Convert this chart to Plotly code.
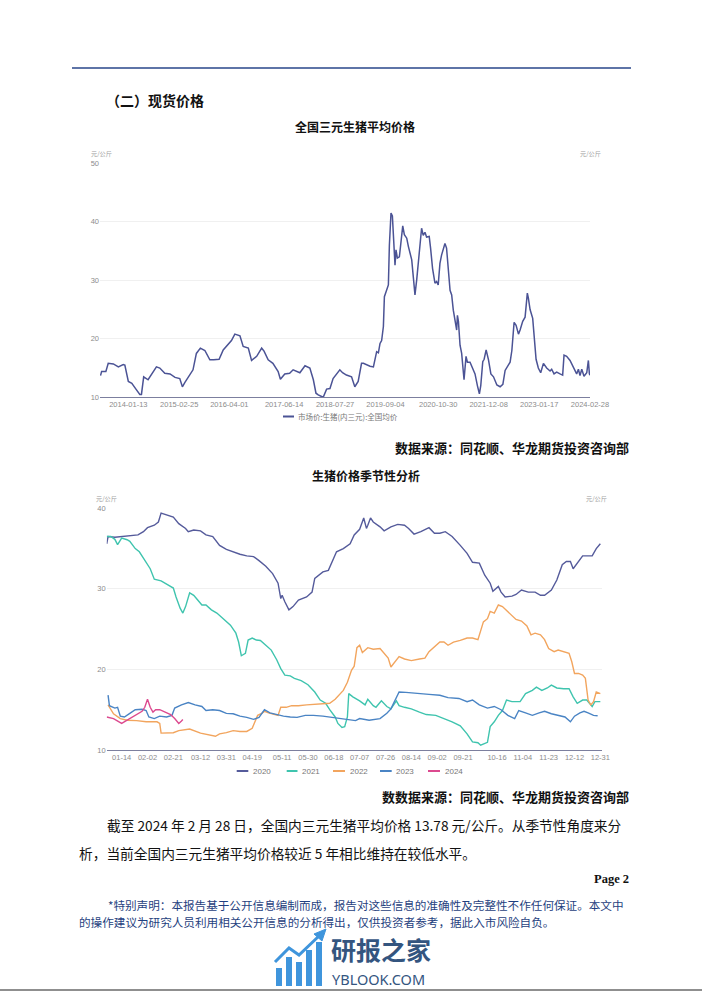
import plotly.graph_objects as go

W, H = 702, 991

# ---------------- Chart 1: 全国三元生猪平均价格 ----------------
c1_dates = [
    "2013-06-04", "2013-06-13", "2013-07-17", "2013-08-05", "2013-09-15", "2013-10-25", "2013-12-03", "2013-12-16",
    "2014-01-13", "2014-02-10", "2014-03-15", "2014-04-15", "2014-04-28", "2014-05-16", "2014-06-20", "2014-08-05",
    "2014-08-26", "2014-09-22", "2014-11-01", "2014-12-13", "2015-01-22", "2015-03-01", "2015-03-22", "2015-04-10",
    "2015-05-13", "2015-06-15", "2015-07-12", "2015-08-13", "2015-09-18", "2015-10-28", "2015-11-28", "2016-01-10",
    "2016-02-12", "2016-03-22", "2016-04-18", "2016-05-15", "2016-06-25", "2016-07-21", "2016-08-31", "2016-09-26",
    "2016-11-06", "2016-12-16", "2017-01-04", "2017-02-06", "2017-03-16", "2017-04-27", "2017-05-15", "2017-06-19",
    "2017-07-28", "2017-08-25", "2017-10-18", "2017-11-28", "2018-01-06", "2018-02-03", "2018-02-24", "2018-03-14",
    "2018-04-23", "2018-05-20", "2018-06-16", "2018-07-11", "2018-08-07", "2018-09-03", "2018-09-25", "2018-10-26",
    "2018-12-06", "2019-01-01", "2019-01-28", "2019-02-24", "2019-03-11", "2019-05-03", "2019-05-30", "2019-06-25",
    "2019-07-09", "2019-07-22", "2019-08-04", "2019-08-18", "2019-08-26", "2019-09-13", "2019-09-27", "2019-10-05",
    "2019-10-18", "2019-10-29", "2019-11-06", "2019-11-19", "2019-11-27", "2019-12-08", "2019-12-24", "2020-01-04",
    "2020-01-20", "2020-02-02", "2020-02-21", "2020-03-05", "2020-04-01", "2020-04-14", "2020-04-27", "2020-05-11",
    "2020-06-06", "2020-06-19", "2020-07-02", "2020-07-16", "2020-07-29", "2020-08-19", "2020-08-30", "2020-09-15",
    "2020-10-04", "2020-10-17", "2020-10-30", "2020-11-13", "2020-11-26", "2020-12-23", "2021-01-05", "2021-01-19",
    "2021-02-02", "2021-02-15", "2021-02-28", "2021-03-27", "2021-04-02", "2021-04-10", "2021-04-23", "2021-05-06",
    "2021-05-25", "2021-06-10", "2021-06-21", "2021-07-12", "2021-08-02", "2021-08-21", "2021-09-09", "2021-09-25",
    "2021-10-06", "2021-10-22", "2021-11-02", "2021-11-18", "2021-12-07", "2021-12-26", "2022-01-16", "2022-02-12",
    "2022-03-10", "2022-04-01", "2022-04-19", "2022-05-08", "2022-05-29", "2022-06-12", "2022-06-30", "2022-07-16",
    "2022-08-04", "2022-08-17", "2022-09-07", "2022-09-26", "2022-10-14", "2022-10-22", "2022-11-05", "2022-11-26",
    "2022-12-07", "2022-12-23", "2023-01-10", "2023-01-29", "2023-02-20", "2023-03-18", "2023-04-14", "2023-04-27",
    "2023-05-16", "2023-06-06", "2023-07-03", "2023-07-24", "2023-08-04", "2023-08-25", "2023-09-21", "2023-10-18",
    "2023-10-31", "2023-11-13", "2023-11-27", "2023-12-10", "2023-12-24", "2024-01-11", "2024-02-02", "2024-02-15",
    "2024-02-23", "2024-02-28",
]
c1_values = [
    13.7, 14.4, 14.4, 15.8, 15.7, 15.2, 15.6, 15.5,
    12.7, 12.4, 11.4, 10.5, 10.5, 13.5, 13.0, 14.4,
    15.2, 15.0, 14.1, 14.0, 13.4, 13.2, 11.8, 12.5,
    13.7, 14.7, 17.5, 18.4, 18.0, 16.4, 16.4, 16.5,
    18.1, 19.0, 19.7, 20.8, 20.5, 18.7, 18.4, 16.3,
    17.0, 18.4, 17.9, 16.4, 15.8, 14.4, 13.1, 14.0,
    14.1, 14.7, 14.2, 15.4, 15.0, 13.0, 10.7, 10.4,
    10.0, 11.4, 11.5, 13.2, 14.0, 14.7, 14.2, 13.8,
    13.5, 11.8, 12.7, 15.8, 15.8, 15.3, 15.2, 17.8,
    17.6, 19.2, 19.7, 22.1, 27.2, 28.3, 29.2, 36.0,
    41.5, 41.0, 37.7, 32.6, 35.2, 33.8, 34.0, 36.3,
    39.3, 37.8, 37.2, 35.8, 33.5, 30.5, 27.5, 30.1,
    35.2, 38.9, 37.7, 38.2, 37.4, 37.5, 35.5, 32.0,
    29.5, 29.8, 29.2, 32.9, 34.3, 36.3, 35.5, 30.9,
    28.3, 27.5, 24.9, 21.5, 24.0, 23.0, 18.9, 17.5,
    13.0, 17.0, 16.0, 16.0, 15.0, 14.0, 12.0, 10.6,
    12.0, 16.1, 16.5, 18.1, 16.4, 14.0, 13.5, 12.1,
    11.8, 12.2, 14.6, 15.3, 16.0, 18.0, 22.8, 22.3,
    20.8, 21.5, 23.0, 23.7, 27.8, 27.0, 25.0, 23.5,
    20.1, 16.5, 15.0, 14.2, 15.8, 15.0, 14.5, 14.8,
    14.0, 14.3, 14.0, 13.8, 17.2, 17.0, 16.3, 15.0,
    14.6, 14.0, 14.8, 13.7, 14.8, 13.6, 14.2, 16.3,
    14.0, 13.78,
]
c1_tick_dates = ["2014-01-13", "2015-02-25", "2016-04-01", "2017-06-14", "2018-07-27",
                 "2019-09-04", "2020-10-30", "2021-12-08", "2023-01-17", "2024-02-28"]
c1_name = "市场价:生猪(内三元):全国均价"

# ---------------- Chart 2: 生猪价格季节性分析 ----------------
s2020_days = ["01-03", "01-04", "01-09", "01-14", "01-20", "01-26", "01-30", "02-02", "02-07", "02-10",
              "02-12", "02-16", "02-21", "02-25", "03-01", "03-03", "03-07", "03-12", "03-16", "03-21",
              "03-26", "03-31", "04-05", "04-10", "04-15", "04-20", "04-24", "04-29", "05-04", "05-08",
              "05-10", "05-11", "05-13", "05-16", "05-19", "05-23", "05-29", "06-02", "06-04", "06-10",
              "06-14", "06-20", "06-25", "06-30", "07-03", "07-07", "07-10", "07-12", "07-13", "07-15",
              "07-17", "07-22", "07-25", "07-30", "08-04", "08-09", "08-12", "08-16", "08-21", "08-27",
              "08-31", "09-04", "09-08", "09-13", "09-19", "09-24", "09-28", "10-03", "10-07", "10-11",
              "10-13", "10-17", "10-19", "10-22", "10-27", "10-30", "11-03", "11-08", "11-13", "11-17",
              "11-20", "11-25", "11-29", "12-03", "12-06", "12-09", "12-11", "12-15", "12-18", "12-25",
              "12-28", "12-31"]
s2020_vals = [35.6, 36.5, 36.4, 36.5, 36.6, 36.7, 37.1, 37.6, 37.9, 38.3,
              39.4, 39.2, 38.9, 38.1, 37.5, 37.1, 37.3, 37.2, 36.7, 36.5,
              35.4, 34.9, 34.6, 34.3, 34.1, 34.0, 33.5, 32.8, 31.9, 30.7,
              28.8, 29.2, 28.4, 27.4, 27.8, 28.6, 29.0, 29.6, 31.3, 32.1,
              32.3, 34.6, 35.0, 35.6, 36.7, 37.4, 38.8, 37.5, 37.9, 38.8,
              38.3, 37.7, 37.2, 37.7, 38.0, 37.9, 37.5, 36.8, 37.1, 37.6,
              36.9, 36.9, 37.1, 36.5, 35.4, 34.4, 33.3, 33.2, 31.7, 30.7,
              29.7, 30.3, 29.6, 29.0, 29.1, 29.3, 29.85, 29.6, 29.6, 29.2,
              29.2, 29.85, 31.1, 33.0, 33.4, 33.4, 32.5, 33.4, 34.1, 34.1,
              35.0, 35.6]

s2021_days = ["01-03", "01-06", "01-09", "01-11", "01-14", "01-18", "01-20", "01-24", "01-27", "01-31",
              "02-04", "02-07", "02-12", "02-17", "02-21", "02-23", "02-26", "02-28", "03-01", "03-04",
              "03-07", "03-09", "03-13", "03-16", "03-20", "03-24", "03-29", "04-03", "04-07", "04-09",
              "04-11", "04-14", "04-16", "04-19", "04-22", "04-25", "04-29", "05-03", "05-07", "05-10",
              "05-13", "05-17", "05-20", "05-25", "05-30", "06-04", "06-08", "06-12", "06-15", "06-19",
              "06-21", "06-24", "06-26", "06-28", "06-29", "07-02", "07-07", "07-11", "07-13", "07-17",
              "07-19", "07-23", "07-27", "07-30", "08-03", "08-05", "08-09", "08-14", "08-20", "08-25",
              "09-01", "09-07", "09-13", "09-19", "09-24", "09-28", "10-02", "10-04", "10-09", "10-11",
              "10-14", "10-17", "10-20", "10-23", "10-27", "11-02", "11-06", "11-11", "11-14", "11-18",
              "11-22", "11-25", "11-29", "12-04", "12-08", "12-11", "12-14", "12-18", "12-21", "12-25",
              "12-27", "12-31"]
s2021_vals = [36.5, 36.5, 36.15, 35.5, 36.3, 36.1, 35.9, 35.0, 34.6, 33.6,
              32.5, 31.2, 31.0, 30.5, 30.1, 29.0, 27.6, 27.0, 27.8, 29.5,
              29.2, 28.8, 28.0, 28.0, 27.4, 27.0, 26.3, 25.5, 24.5, 23.4,
              21.7, 22.0, 23.65, 23.9, 23.65, 23.6, 23.0, 22.4, 21.2, 20.1,
              19.3, 19.2, 18.9, 18.6, 18.1, 17.2, 16.2, 15.8, 15.0, 14.1,
              13.3, 12.8, 12.9, 14.1, 17.0, 16.6, 16.1, 15.6, 16.3, 15.5,
              15.3, 16.1, 15.4, 15.1, 16.1, 15.5, 15.3, 15.1, 14.7, 14.4,
              14.3, 13.9, 13.5, 13.0, 12.0, 11.0, 10.9, 10.6, 10.95, 12.9,
              13.5, 14.3, 14.9, 16.2, 16.0, 16.0, 17.0, 17.4, 17.8, 17.4,
              17.7, 18.05, 17.7, 17.6, 17.6, 16.6, 15.8, 16.2, 16.2, 15.4,
              16.0, 16.0]

s2022_days = ["01-04", "01-08", "01-13", "01-18", "01-25", "02-01", "02-09", "02-11", "02-12", "02-16",
              "02-21", "02-25", "02-28", "03-04", "03-12", "03-19", "03-23", "03-26", "03-31", "04-05",
              "04-10", "04-15", "04-19", "04-21", "04-23", "04-26", "04-28", "05-01", "05-04", "05-08",
              "05-10", "05-14", "05-18", "05-23", "05-29", "06-04", "06-10", "06-15", "06-19", "06-22",
              "06-25", "06-28", "07-01", "07-03", "07-05", "07-07", "07-09", "07-13", "07-17", "07-22",
              "07-25", "07-28", "07-30", "08-03", "08-05", "08-09", "08-14", "08-20", "08-24", "08-27",
              "08-31", "09-04", "09-07", "09-10", "09-14", "09-19", "09-24", "09-28", "10-02", "10-06",
              "10-09", "10-11", "10-14", "10-17", "10-20", "10-24", "10-28", "10-30", "11-03", "11-07",
              "11-10", "11-13", "11-17", "11-20", "11-23", "11-27", "11-30", "12-04", "12-08", "12-10",
              "12-12", "12-15", "12-18", "12-20", "12-22", "12-24", "12-26", "12-28", "12-31"]
s2022_vals = [15.6, 14.5, 13.9, 13.7, 13.65, 13.5, 13.5, 13.3, 12.1, 12.15,
              12.15, 12.4, 12.5, 12.6, 12.1, 11.9, 11.7, 12.0, 12.15, 12.4,
              12.3, 12.3, 12.7, 13.5, 14.3, 14.55, 14.8, 14.6, 14.5, 14.3,
              15.3, 15.3, 15.5, 15.5, 15.6, 15.7, 15.8, 15.8, 16.3, 16.9,
              17.4, 18.4, 19.9, 20.4, 22.7, 23.0, 22.1, 22.7, 22.5, 22.6,
              22.0, 21.4, 20.3, 21.2, 21.6, 21.3, 21.1, 21.3, 21.4, 22.2,
              22.8, 23.4, 23.4, 23.0, 23.4, 23.6, 23.9, 23.9, 23.7, 25.9,
              26.3, 27.2, 27.0, 28.0, 27.8, 27.2, 26.6, 26.2, 26.0, 25.4,
              24.3, 24.5, 24.3, 23.7, 22.6, 22.2, 22.4, 22.2, 22.0, 20.95,
              19.5, 19.5, 19.3, 18.9, 16.2, 15.6, 16.0, 17.2, 17.0]

s2023_days = ["01-04", "01-05", "01-09", "01-11", "01-13", "01-16", "01-20", "01-24", "01-29", "02-01",
              "02-03", "02-07", "02-11", "02-16", "02-20", "02-22", "02-27", "03-03", "03-08", "03-13",
              "03-16", "03-21", "03-26", "03-31", "04-05", "04-10", "04-15", "04-20", "04-24", "04-28",
              "05-02", "05-07", "05-12", "05-17", "05-22", "05-28", "06-03", "06-10", "06-17", "06-23",
              "06-29", "07-04", "07-07", "07-14", "07-22", "07-27", "07-30", "08-03", "08-05", "08-10",
              "08-18", "08-27", "09-04", "09-10", "09-18", "09-24", "09-28", "10-03", "10-09", "10-14",
              "10-19", "10-24", "10-29", "11-01", "11-06", "11-11", "11-16", "11-20", "11-25", "11-30",
              "12-05", "12-09", "12-12", "12-16", "12-19", "12-22", "12-26", "12-29"]
s2023_vals = [16.8, 15.5, 15.2, 15.3, 14.2, 14.1, 14.55, 15.0, 15.05, 14.9,
              14.1, 13.9, 14.2, 14.1, 14.3, 15.2, 15.6, 15.9, 15.6, 15.4,
              14.9, 15.0, 14.9, 14.55, 14.5, 14.2, 14.05, 13.8, 14.05, 15.0,
              14.6, 14.4, 14.2, 14.1, 14.05, 14.3, 14.3, 14.2, 14.05, 13.9,
              13.8, 13.65, 13.9, 13.7, 13.9, 14.55, 15.1, 16.6, 17.2, 17.15,
              17.0, 16.9, 16.8, 16.5, 16.4, 16.0, 16.2, 15.6, 15.2, 15.4,
              15.0, 14.3, 13.9, 14.9, 14.6, 14.3, 14.6, 14.8, 14.5, 14.3,
              14.1, 13.5, 14.2, 14.6, 14.8, 14.6, 14.3, 14.25]

s2024_days = ["01-03", "01-08", "01-14", "01-18", "01-21", "01-25", "01-29", "01-31", "02-02", "02-04",
              "02-06", "02-08", "02-11", "02-15", "02-19", "02-22", "02-25", "02-27", "02-28"]
s2024_vals = [14.1, 13.9, 13.3, 13.7, 13.9, 14.3, 14.8, 15.3, 16.3, 15.3,
              14.7, 15.0, 15.0, 14.7, 14.4, 13.9, 13.3, 13.6, 13.78]

c2_years = ["2020", "2021", "2022", "2023", "2024"]
c2_tick_days = ["01-14", "02-02", "02-21", "03-12", "03-31", "04-19", "05-11", "05-30", "06-18", "07-07",
                "07-26", "08-14", "09-02", "09-21", "10-16", "11-04", "11-23", "12-12", "12-31"]

# ---------------- styling ----------------
CN = "Noto Sans CJK SC"
AXF = dict(family="Liberation Sans, Arial, sans-serif", size=7.5, color="#8c8c8c")
C1_COLOR = "#4b5395"
C2_COLORS = ["#555b9b", "#3fc4ae", "#f2a55e", "#4a84c4", "#dc4a8f"]
GRID = "#f0f0f0"
AXLINE = "#7c7f9e"


def X(p):
    return p / W


def Y(p):
    return 1 - p / H


fig = go.Figure()
fig.add_trace(go.Scatter(x=c1_dates, y=c1_values, mode="lines", name=c1_name,
                         line=dict(color=C1_COLOR, width=1.5), xaxis="x", yaxis="y",
                         showlegend=False))

series = [s2020_days, s2021_days, s2022_days, s2023_days, s2024_days]
values = [s2020_vals, s2021_vals, s2022_vals, s2023_vals, s2024_vals]
for yr, days, vals, col in zip(c2_years, series, values, C2_COLORS):
    fig.add_trace(go.Scatter(x=["2020-" + d for d in days], y=vals, mode="lines", name=yr,
                             line=dict(color=col, width=1.4), xaxis="x2", yaxis="y2",
                             showlegend=False))

common_y = dict(showline=False, zeroline=False, ticks="", tickfont=AXF, fixedrange=True,
                automargin=False)

fig.update_layout(
    width=W, height=H, margin=dict(l=0, r=0, t=0, b=0, pad=0, autoexpand=False),
    autosize=False,
    paper_bgcolor="white", plot_bgcolor="white",
    font=dict(family=CN, color="#111111"),
    xaxis=dict(domain=[X(100), X(590)], anchor="y", type="date",
               range=["2013-05-31", "2024-02-28"], tickmode="array",
               tickvals=c1_tick_dates, ticktext=c1_tick_dates, showgrid=False,
               showline=True, linecolor=AXLINE, linewidth=1.3, ticks="", zeroline=False,
               tickfont=AXF, fixedrange=True, automargin=False),
    yaxis=dict(domain=[Y(397.3), Y(163.3)], anchor="x", range=[10, 50],
               tickvals=[10, 20, 30, 40, 50], showgrid=True, gridcolor=GRID, **common_y),
    yaxis3=dict(overlaying="y", side="right", anchor="x", range=[10, 50],
                tickvals=[10, 20, 30, 40, 50], showgrid=False, **common_y),
    xaxis2=dict(domain=[X(106.7), X(601.7)], anchor="y2", type="date",
                range=["2020-01-03", "2021-01-01"], tickmode="array",
                tickvals=["2020-" + d for d in c2_tick_days], ticktext=c2_tick_days,
                showgrid=False, showline=True, linecolor=AXLINE, linewidth=1.3, ticks="",
                zeroline=False, tickfont=AXF, fixedrange=True, automargin=False),
    yaxis2=dict(domain=[Y(750), Y(508.3)], anchor="x2", range=[10, 40],
                tickvals=[10, 20, 30, 40], showgrid=True, gridcolor=GRID, **common_y),
    yaxis4=dict(overlaying="y2", side="right", anchor="x2", range=[10, 40],
                tickvals=[10, 20, 30, 40], showgrid=False, **common_y),
)

ann = []
shapes = []


def text(t, x, y, size, anchor="left", color="#111111", family=CN, bold=False):
    ann.append(dict(text=("<b>%s</b>" % t) if bold else t, x=X(x), y=Y(y), xref="paper",
                    yref="paper", xanchor=anchor, yanchor="middle", showarrow=False,
                    font=dict(family=family, size=size, color=color)))


def hline(x0, x1, y, color, width):
    shapes.append(dict(type="line", xref="paper", yref="paper", x0=X(x0), x1=X(x1),
                       y0=Y(y), y1=Y(y), line=dict(color=color, width=width)))


# page header line
hline(72, 631, 68, "#28468a", 1.5)

text("（二）现货价格", 104, 100, 14, bold=True)
text("全国三元生猪平均价格", 355, 127, 12, anchor="center", bold=True)
text("元/公斤", 89, 153.5, 6.2, color="#9a9a9a")
text("元/公斤", 603, 153.5, 6.2, anchor="right", color="#9a9a9a")
# chart 1 legend
hline(283, 294, 416.5, C1_COLOR, 2)
text(c1_name, 296, 416.5, 7.5, color="#777777")
text("数据来源：同花顺、华龙期货投资咨询部", 631, 447, 13, anchor="right", bold=True)

text("生猪价格季节性分析", 366, 475, 12, anchor="center", bold=True)
text("元/公斤", 94, 498.5, 6.2, color="#9a9a9a")
text("元/公斤", 609, 498.5, 6.2, anchor="right", color="#9a9a9a")
# chart 2 legend
leg_lines = [(236.7, 248.3), (286.7, 297.5), (333, 345), (380, 391.7), (428, 440)]
for yr, col, (a, b) in zip(c2_years, C2_COLORS, leg_lines):
    hline(a, b, 771, col, 2)
    text(yr, b + 2.5, 771, 8, color="#777777", family="Liberation Sans, Arial, sans-serif")
text("数数据来源：同花顺、华龙期货投资咨询部", 631, 796, 13, anchor="right", bold=True)

text("截至 2024 年 2 月 28 日，全国内三元生猪平均价格 13.78 元/公斤。从季节性角度来分",
     105, 825, 13.7)
text("析，当前全国内三元生猪平均价格较近 5 年相比维持在较低水平。", 77, 853, 13.7)
text("Page 2", 631, 879, 12.5, anchor="right", family="Liberation Serif, serif", bold=True)

BLUE = "#1f3f80"
text("*特别声明：本报告基于公开信息编制而成，报告对这些信息的准确性及完整性不作任何保证。本文中",
     106, 905, 11.6, color=BLUE)
text("的操作建议为研究人员利用相关公开信息的分析得出，仅供投资者参考，据此入市风险自负。",
     77, 922, 11.6, color=BLUE)

# watermark logo
LOGO = "#34557f"
LB = "#3f95dc"
for (a, b, top) in [(276, 282, 968), (286, 292, 957), (296, 302, 962), (306, 312, 950), (316, 322, 942)]:
    shapes.append(dict(type="rect", xref="paper", yref="paper", x0=X(a), x1=X(b),
                       y0=Y(986), y1=Y(top), fillcolor=LB, line=dict(width=0)))
shapes.append(dict(type="path", xref="paper", yref="paper",
                   path="M %f %f L %f %f L %f %f L %f %f" % (X(275), Y(962), X(289), Y(948),
                                                             X(299), Y(955), X(319), Y(936)),
                   line=dict(color=LB, width=3)))
shapes.append(dict(type="path", xref="paper", yref="paper",
                   path="M %f %f L %f %f L %f %f Z" % (X(314), Y(934), X(326), Y(929), X(322), Y(941)),
                   fillcolor=LB, line=dict(color=LB, width=1)))
text("研报之家", 329, 949, 25, color=LOGO, bold=True)
text("YBLOOK.COM", 330, 978.5, 14.5, color=LOGO, family="Noto Sans, sans-serif")

# bottom gray band
shapes.append(dict(type="rect", xref="paper", yref="paper", x0=0, x1=1, y0=0, y1=Y(989),
                   fillcolor="#8f8f8f", line=dict(width=0)))

fig.update_layout(annotations=ann, shapes=shapes)
fig.write_html(
    "out.html",
    config={"responsive": False, "displayModeBar": False},
    post_script="document.body.style.margin='0';document.body.style.overflow='hidden';"
                "document.documentElement.style.overflow='hidden';",
)
